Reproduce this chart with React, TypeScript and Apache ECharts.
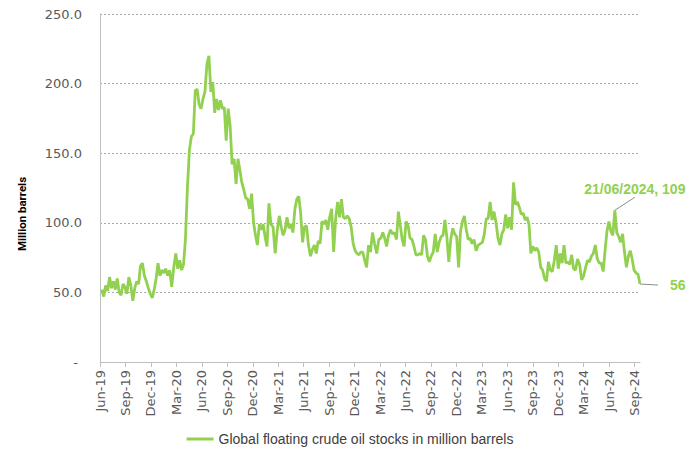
import React, { useEffect, useRef } from "react";
import * as echarts from "echarts";

// Weekly observations (Fridays), first one on 7 June 2019
const START_DATE = "2019-06-07";
const SERIES_NAME = "Global floating crude oil stocks in million barrels";
const Y_AXIS_NAME = "Million barrels";
const MONTH_NAMES = ["Jan", "Feb", "Mar", "Apr", "May", "Jun", "Jul", "Aug", "Sep", "Oct", "Nov", "Dec"];
const ANNOTATED_DATE = "2024-06-21";

// Million barrels, weekly
const stocks2019 = [52, 47, 55, 51, 61, 53, 58, 52, 60, 50, 48, 56, 54, 49, 61, 55, 44, 53, 58, 56, 69, 71, 62, 58, 53, 49, 46, 52, 60, 71];
const stocks2020 = [62, 66, 64, 67, 62, 66, 54, 68, 78, 67, 73, 66, 70, 88, 125, 152, 162, 164, 195, 196, 185, 182, 189, 194, 214, 220, 194, 201, 179, 189, 181, 188, 182, 183, 159, 182, 170, 142, 146, 128, 146, 138, 129, 124, 118, 117, 110, 121, 100, 91, 84, 99];
const stocks2021 = [95, 99, 90, 83, 114, 99, 97, 78, 95, 105, 97, 91, 95, 104, 96, 99, 93, 110, 117, 119, 107, 86, 97, 98, 84, 76, 81, 84, 78, 87, 85, 101, 99, 102, 95, 104, 110, 79, 103, 115, 104, 117, 104, 103, 105, 103, 97, 85, 80, 78, 77, 79, 79];
const stocks2022 = [73, 68, 84, 79, 93, 85, 78, 88, 89, 93, 89, 83, 91, 95, 92, 93, 88, 108, 98, 88, 83, 101, 98, 89, 88, 83, 77, 77, 78, 77, 91, 88, 76, 72, 76, 79, 92, 79, 86, 90, 91, 102, 90, 72, 88, 96, 92, 90, 68, 94, 101, 105];
const stocks2023 = [95, 88, 89, 85, 88, 80, 84, 85, 86, 92, 103, 103, 115, 102, 108, 100, 89, 84, 92, 95, 106, 96, 104, 95, 129, 113, 115, 111, 106, 107, 102, 104, 99, 78, 83, 80, 82, 79, 68, 66, 60, 58, 72, 66, 65, 73, 84, 67, 78, 71, 84, 71];
const stocks2024 = [72, 70, 77, 67, 66, 74, 70, 59, 62, 68, 73, 72, 76, 78, 84, 74, 71, 71, 65, 80, 94, 101, 94, 91, 109, 93, 90, 86, 92, 79, 68, 76, 80, 74, 66, 64, 63, 56];

const GREEN = "#92D050";
const GRID_GREY = "#BFBFBF";
const LABEL_GREY = "#595959";
const LEADER_GREY = "#8C8C8C";
const SANS = "Liberation Sans, Arial, sans-serif";

const values = [...stocks2019, ...stocks2020, ...stocks2021, ...stocks2022, ...stocks2023, ...stocks2024];

function weeklyDates(start: string, n: number): Date[] {
  const t0 = Date.parse(start + "T00:00:00Z");
  const out: Date[] = [];
  for (let i = 0; i < n; i++) out.push(new Date(t0 + i * 7 * 86400000));
  return out;
}

function daysInMonth(y: number, m: number) {
  return new Date(Date.UTC(y, m + 1, 0)).getUTCDate();
}

// months since 1 June 2019 (fractional)
function monthIndex(d: Date) {
  const y = d.getUTCFullYear();
  const m = d.getUTCMonth();
  return (y - 2019) * 12 + (m - 5) + (d.getUTCDate() - 1) / daysInMonth(y, m);
}

function isoDate(d: Date) {
  return d.toISOString().slice(0, 10);
}

function ddmmyyyy(d: Date) {
  const dd = String(d.getUTCDate()).padStart(2, "0");
  const mm = String(d.getUTCMonth() + 1).padStart(2, "0");
  return `${dd}/${mm}/${d.getUTCFullYear()}`;
}

export default function App() {
  const ref = useRef<HTMLDivElement>(null);

  useEffect(() => {
    document.body.style.margin = "0";
    if (!ref.current) return;
    const chart = echarts.init(ref.current, undefined, { renderer: "svg" });

    const dates = weeklyDates(START_DATE, values.length);
    const xs = dates.map(monthIndex);
    const peakIdx = dates.findIndex((d) => isoDate(d) === ANNOTATED_DATE);
    const lastIdx = values.length - 1;

    const data = values.map((v, i) => [xs[i], v]);

    const option: any = {
      animation: false,
      backgroundColor: "#ffffff",
      grid: { left: 100, right: 60, top: 14, bottom: 95 },
      legend: {
        data: [SERIES_NAME],
        left: "center",
        top: 427,
        icon: "rect",
        itemWidth: 27,
        itemHeight: 3,
        itemGap: 10,
        textStyle: { fontSize: 14, color: "#404040", fontFamily: SANS },
      },
      xAxis: {
        type: "value",
        min: 0,
        max: xs[lastIdx],
        interval: 3,
        splitLine: { show: false },
        axisLine: { show: true, lineStyle: { color: GRID_GREY, width: 1 } },
        axisTick: { show: true, length: 5, lineStyle: { color: GRID_GREY } },
        axisLabel: {
          rotate: 90,
          margin: 8,
          fontSize: 13,
          color: LABEL_GREY,
          fontFamily: "DejaVu Sans, sans-serif",
          showMaxLabel: false,
          formatter: (m: number) => {
            if (Math.abs(m - Math.round(m)) > 1e-6 || Math.round(m) % 3 !== 0) return "";
            const total = 5 + Math.round(m);
            const year = 2019 + Math.floor(total / 12);
            return `${MONTH_NAMES[total % 12]}-${String(year % 100).padStart(2, "0")}`;
          },
        },
      },
      yAxis: {
        type: "value",
        min: 0,
        max: 250,
        interval: 50,
        name: Y_AXIS_NAME,
        nameLocation: "middle",
        nameRotate: 90,
        nameGap: 72,
        nameTextStyle: {
          fontSize: 11.5,
          fontWeight: "bold",
          color: "#000000",
          fontFamily: "Roboto, Liberation Sans, Arial, sans-serif",
          padding: [0, 52, 0, 0],
        },
        axisLine: { show: true, lineStyle: { color: GRID_GREY, width: 1 } },
        axisTick: { show: false },
        axisLabel: {
          margin: 18,
          fontSize: 13,
          color: LABEL_GREY,
          fontFamily: "DejaVu Sans, sans-serif",
          formatter: (v: number) => (v === 0 ? "-\u00a0" : v.toFixed(1)),
        },
        splitLine: { show: true, lineStyle: { color: "#A6A6A6", type: [2, 2], width: 1 } },
      },
      series: [
        {
          type: "line",
          name: SERIES_NAME,
          data,
          showSymbol: false,
          silent: true,
          lineStyle: { color: GREEN, width: 2.8 },
          itemStyle: { color: GREEN },
          emphasis: { disabled: true },
        },
      ],
    };

    chart.setOption(option);

    // annotations anchored on the data points through the chart's own scales
    const p = chart.convertToPixel({ gridIndex: 0 }, [xs[peakIdx], values[peakIdx]]) as number[];
    const q = chart.convertToPixel({ gridIndex: 0 }, [xs[lastIdx], values[lastIdx]]) as number[];
    const labelFont = { fontSize: 14, fontWeight: "bold", fontFamily: SANS, fill: GREEN };
    chart.setOption({
      graphic: [
        {
          type: "line",
          silent: true,
          shape: { x1: p[0], y1: p[1], x2: p[0] + 20, y2: p[1] - 13 },
          style: { stroke: LEADER_GREY, lineWidth: 1 },
        },
        {
          type: "text",
          silent: true,
          x: p[0] + 20,
          y: p[1] - 14,
          style: {
            text: `${ddmmyyyy(dates[peakIdx])}, ${values[peakIdx]}`,
            align: "center",
            verticalAlign: "bottom",
            ...labelFont,
          },
        },
        {
          type: "line",
          silent: true,
          shape: { x1: q[0], y1: q[1], x2: q[0] + 18, y2: q[1] + 1 },
          style: { stroke: LEADER_GREY, lineWidth: 1 },
        },
        {
          type: "text",
          silent: true,
          x: q[0] + 30,
          y: q[1] + 1,
          style: {
            text: `${values[lastIdx]}`,
            align: "left",
            verticalAlign: "middle",
            ...labelFont,
          },
        },
      ],
    });

    return () => chart.dispose();
  }, []);

  return <div ref={ref} style={{ width: 700, height: 457 }} />;
}
